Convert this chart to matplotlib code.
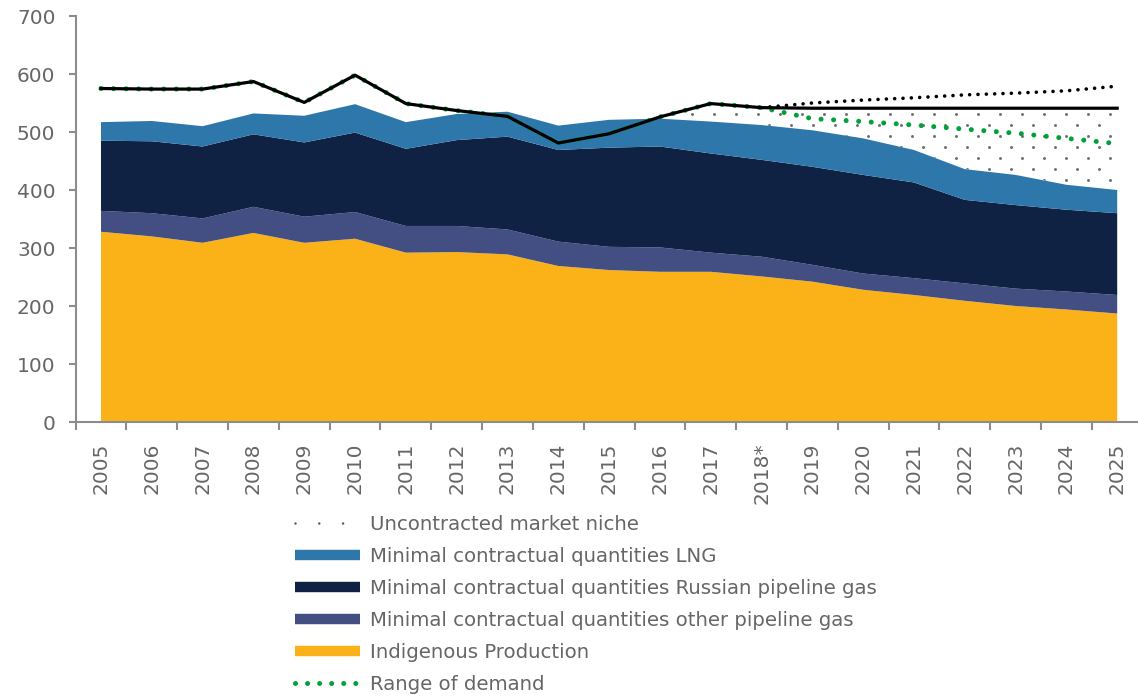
import numpy as np
import matplotlib
matplotlib.use("Agg")
import matplotlib.pyplot as plt
from matplotlib.lines import Line2D

# ---------------- data ----------------
years = ["2005", "2006", "2007", "2008", "2009", "2010", "2011", "2012", "2013", "2014",
         "2015", "2016", "2017", "2018*", "2019", "2020", "2021", "2022", "2023", "2024", "2025"]
indigenous = [328, 320, 309, 326, 309, 316, 292, 293, 289, 269, 262, 259, 259, 251, 242, 228, 219, 209, 200, 194, 187]
other_pipeline = [36, 40, 42, 45, 45, 46, 46, 45, 43, 42, 40, 42, 33, 34, 29, 28, 29, 30, 30, 31, 32]
russian_pipeline = [121, 124, 124, 125, 128, 137, 133, 148, 160, 158, 171, 174, 171, 167, 169, 170, 165, 144, 144, 141, 141]
lng = [32, 35, 35, 36, 46, 49, 46, 45, 43, 42, 48, 48, 55, 60, 63, 63, 56, 53, 52, 43, 40]
niche = [0, 0, 0, 0, 0, 0, 0, 0, 0, 0, 0, 3, 31, 30, 38, 52, 72, 105, 115, 132, 141]
demand = [575, 574, 574, 587, 551, 598, 549, 537, 527, 481, 497, 526, 549, 542, 541, 541, 541, 541, 541, 541, 541]
demand_high = [np.nan] * 13 + [542, 550, 555, 559, 564, 567, 571, 579]
demand_low = [575, 574, 574, 587, 551, 598, 549, 537, 527, 481, 497, 526, 549, 542, 523, 518, 512, 505, 498, 489, 480]

labels = ["Uncontracted market niche",
          "Minimal contractual quantities LNG",
          "Minimal contractual quantities Russian pipeline gas",
          "Minimal contractual quantities other pipeline gas",
          "Indigenous Production",
          "Range of demand"]

# ---------------- style ----------------
C_IND = "#FBB118"
C_OTH = "#434E82"
C_RUS = "#0F2244"
C_LNG = "#2E77AB"
C_GREEN = "#00A03A"
C_TXT = "#666666"
C_AX = "#8C8C8C"
C_DOT = "#6E6E6E"

plt.rcParams["font.family"] = ["DejaVu Sans"]

W, H = 1138, 696
fig = plt.figure(figsize=(W / 100, H / 100), dpi=100)
ax = fig.add_axes([75.6 / W, (H - 422) / H, 1067 / W, 406 / H])

x = np.arange(len(years))
ax.stackplot(x, indigenous, other_pipeline, russian_pipeline, lng,
             colors=[C_IND, C_OTH, C_RUS, C_LNG], linewidth=0)
base = np.array(indigenous) + np.array(other_pipeline) + np.array(russian_pipeline) + np.array(lng)
niche_poly = ax.fill_between(x, base, base + np.array(niche), facecolor="none", linewidth=0)

ax.plot(x, demand_low, color=C_GREEN, lw=3.6, linestyle=(0, (0.01, 2.5)),
        dash_capstyle="round", zorder=4)
ax.plot(x, demand, color="black", lw=2.3, zorder=5, solid_joinstyle="round")
ax.plot(x, demand_high, color="black", lw=2.6, linestyle=(0, (0.01, 2.3)),
        dash_capstyle="round", zorder=5)

ax.set_xlim(-0.5, 20.5)
ax.set_ylim(0, 700)

# dotted pattern for the uncontracted niche (staggered dot lattice, clipped to the area)
bb = ax.get_window_extent()
step_x, step_y = 22.0, 11.0
pts = []
for j, py in enumerate(np.arange(bb.y0, bb.y1, step_y)):
    off = 0 if j % 2 == 0 else step_x / 2
    for px in np.arange(bb.x0 + off, bb.x1, step_x):
        pts.append((px, py))
pts = ax.transData.inverted().transform(np.array(pts))
sc = ax.scatter(pts[:, 0], pts[:, 1], s=4.5, color=C_DOT, linewidths=0, zorder=2)
sc.set_clip_path(niche_poly.get_paths()[0], ax.transData)

ax.set_yticks(range(0, 701, 100))
ax.set_xticks(np.arange(-0.5, 20.6, 1))
ax.set_xticklabels([])
ax.set_xticks(x, minor=True)
ax.set_xticklabels(years, minor=True, rotation=90)
ax.tick_params(axis="x", which="major", length=6, width=1.5, color=C_AX, direction="out")
ax.tick_params(axis="x", which="minor", length=0, pad=15, labelsize=14.5, labelcolor=C_TXT)
ax.tick_params(axis="y", length=5, width=1.5, color=C_AX, pad=9.5, labelsize=14.5, labelcolor=C_TXT)
for s in ["top", "right"]:
    ax.spines[s].set_visible(False)
for s in ["left", "bottom"]:
    ax.spines[s].set_color(C_AX)
    ax.spines[s].set_linewidth(1.5)

# ---------------- legend ----------------
handles = [
    Line2D([0], [0], color="#555555", lw=1.8, linestyle=(0, (0.01, 9.5)), dash_capstyle="round"),
    Line2D([0], [0], color=C_LNG, lw=7.5, solid_capstyle="butt"),
    Line2D([0], [0], color=C_RUS, lw=7.5, solid_capstyle="butt"),
    Line2D([0], [0], color=C_OTH, lw=7.5, solid_capstyle="butt"),
    Line2D([0], [0], color=C_IND, lw=7.5, solid_capstyle="butt"),
    Line2D([0], [0], color=C_GREEN, lw=3.6, linestyle=(0, (0.01, 2.4)), dash_capstyle="round"),
]
leg = fig.legend(handles, labels, loc="upper left", bbox_to_anchor=(295 / W, 1 - 515 / H),
                 frameon=False, fontsize=14.25, handlelength=3.3, handletextpad=0.5,
                 labelspacing=0.66, borderpad=0, borderaxespad=0)
for t in leg.get_texts():
    t.set_color(C_TXT)

fig.savefig("out.png", dpi=100)
